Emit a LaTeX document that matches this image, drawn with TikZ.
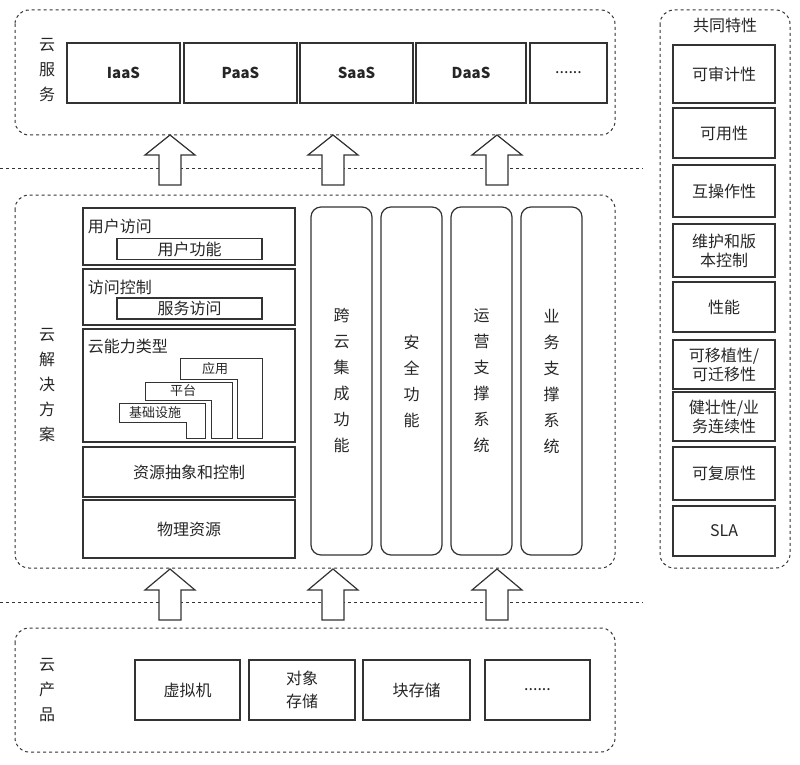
\documentclass[tikz,border=0pt]{standalone}
\usepackage{fontspec}
\setmainfont{Noto Sans CJK SC}
\begin{document}
\begin{tikzpicture}[x=1pt,y=-1pt,
 line width=1.2pt, draw=black!80,
 grp/.style={draw=black!80,dashed,rounded corners=14pt,line width=1pt},
 bx/.style={draw=black!80,font=\fontsize{16}{19}\selectfont,text=black!85},
 col/.style={draw=black!80,rounded corners=10pt,font=\fontsize{16}{26}\selectfont,align=center,text=black!85},
 lab/.style={font=\fontsize{16}{25}\selectfont,align=center,text=black!85},
 sm/.style={font=\fontsize{13}{15}\selectfont,text=black!85},
 ha/.style={draw=black!80,line width=1.2pt,fill=white}]
\useasboundingbox (0,0) rectangle (800,765);
% groups
\draw[grp] (15,10) rectangle (615,135);
\draw[grp] (15,195) rectangle (615,568);
\draw[grp] (15,628) rectangle (615,752);
\draw[grp] (660,10) rectangle (790,568);
\draw[dashed,line width=1pt,draw=black!80] (0,168) -- (643,168);
\draw[dashed,line width=1pt,draw=black!80] (0,602) -- (643,602);
% top
\node[lab] (ls) at (47,70) {云\\服\\务};
\foreach \n/\a/\b/\t in {i/67/180/IaaS,p/184/297/PaaS,s/300/413/SaaS,d/416/526/DaaS}
  \node[bx,minimum width=\b-\a,minimum height=60,font=\bfseries\fontsize{15}{17}\selectfont] (\n) at ({(\a+\b)/2},73) {\t};
\node[bx,minimum width=77,minimum height=60] (e) at (568.5,73) {......};
% arrows
\foreach \x in {170,333,497}{
 \draw[ha] (\x-11,185) -- (\x-11,155) -- (\x-25,155) -- (\x,135) -- (\x+25,155) -- (\x+11,155) -- (\x+11,185) -- cycle;
 \draw[ha] (\x-11,620) -- (\x-11,590) -- (\x-25,590) -- (\x,569) -- (\x+25,590) -- (\x+11,590) -- (\x+11,620) -- cycle;}
% middle
\node[lab] (lm) at (47,385) {云\\解\\决\\方\\案};
\draw (83,208) rectangle (295,265);
\node[lab,anchor=west] (ua) at (84,226) {用户访问};
\node[bx,minimum width=145,minimum height=21,inner sep=0pt] (uf) at (189.5,249) {用户功能};
\draw (83,269) rectangle (295,325);
\node[lab,anchor=west] (ac) at (84,287) {访问控制};
\node[bx,minimum width=145,minimum height=21,inner sep=0pt] (sa) at (189.5,308.5) {服务访问};
\draw (83,329) rectangle (295,442);
\node[lab,anchor=west] (ct) at (84,346) {云能力类型};
\draw[line width=1pt] (180,358) -- (262,358) -- (262,438) -- (237,438) -- (237,379) -- (180,379) -- cycle;
\draw[line width=1pt] (145,382) -- (232,382) -- (232,438) -- (211,438) -- (211,400) -- (145,400) -- cycle;
\draw[line width=1pt] (119,403) -- (205,403) -- (205,438) -- (186,438) -- (186,422) -- (119,422) -- cycle;
\node[sm] (yy) at (215,368.5) {应用};
\node[sm] (pt) at (183,391) {平台};
\node[sm] (jc) at (155,412.5) {基础设施};
\node[bx,minimum width=212,minimum height=50] (zy) at (189,472) {资源抽象和控制};
\node[bx,minimum width=212,minimum height=58] (wl) at (189,529) {物理资源};
\node[col,minimum width=61,minimum height=348] (c1) at (341.5,381) {跨\\云\\集\\成\\功\\能};
\node[col,minimum width=61,minimum height=348] (c2) at (411.5,381) {安\\全\\功\\能};
\node[col,minimum width=61,minimum height=348] (c3) at (481.5,381) {运\\营\\支\\撑\\系\\统};
\node[col,minimum width=61,minimum height=348] (c4) at (551.5,381) {业\\务\\支\\撑\\系\\统};
% bottom
\node[lab] (lb) at (47,690) {云\\产\\品};
\node[bx,minimum width=105,minimum height=60] (b1) at (187.5,690) {虚拟机};
\node[bx,minimum width=106,minimum height=60,align=center,font=\fontsize{16}{23}\selectfont] (b2) at (302,690) {对象\\存储};
\node[bx,minimum width=107,minimum height=60] (b3) at (416.5,690) {块存储};
\node[bx,minimum width=105,minimum height=60] (b4) at (537.5,690) {......};
% right
\node[lab] (gt) at (725,25) {共同特性};
\foreach \n/\a/\b/\t in {r1/45/103/可审计性,r2/108/158/可用性,r3/165/217/互操作性,r4/224/277/{维护和版\\本控制},r5/282/332/性能,r6/340/389/{可移植性/\\可迁移性},r7/392/441/{健壮性/业\\务连续性},r8/447/500/可复原性,r9/506/556/SLA}
  \node[bx,align=center,minimum width=102,minimum height=\b-\a,inner sep=1pt] (\n) at (724,{(\a+\b)/2}) {\t};
\end{tikzpicture}
\end{document}
